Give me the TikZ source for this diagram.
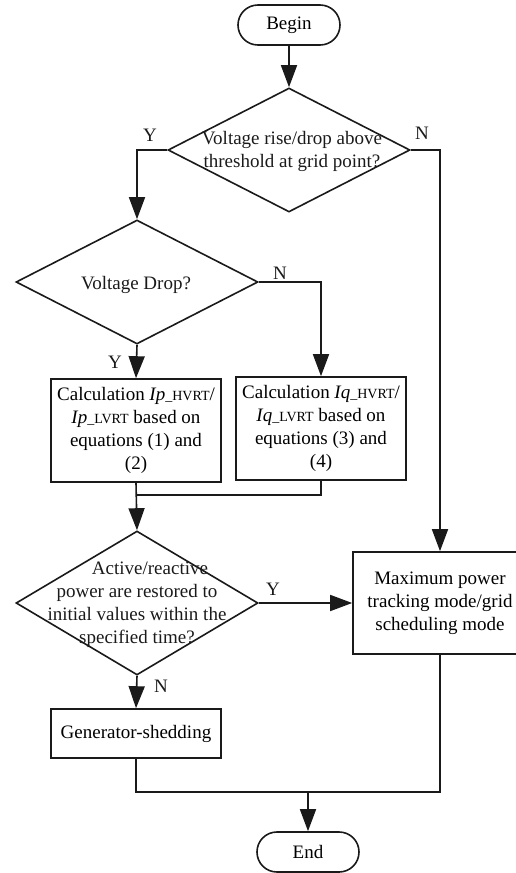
\documentclass[tikz,border=0pt]{standalone}
\usepackage{fontspec}
\setmainfont{Liberation Serif}
\usetikzlibrary{arrows.meta,shapes.geometric}
\newcommand{\rtsub}[1]{{\fontsize{14}{14}\selectfont\_#1}}
\tikzset{
  flow/.style={draw=ink,line width=1.6pt},
  arr/.style={flow,-{Triangle[length=22pt,width=16pt]}},
  termbox/.style={draw=ink,line width=1.6pt,rounded corners=19.9pt,minimum width=102pt,minimum height=40pt,inner sep=0pt},
  procbox/.style={draw=ink,line width=1.6pt,minimum width=170pt,inner sep=0pt,align=center},
  decide/.style={draw=ink,line width=1.6pt,diamond,minimum width=242pt,minimum height=124pt,inner sep=0pt},
  yn/.style={text=ink}
}
\begin{document}
\begin{tikzpicture}[x=1pt,y=-1pt,font=\fontsize{19}{23}\selectfont]
\definecolor{ink}{HTML}{1A1A1A}
\useasboundingbox (0,0) rectangle (516,873);
% start and first test
\node[termbox] (begin) at (289,25) {Begin};
\node[decide] (vrise) at (289,150) {};
\node[align=center,text=ink] (vrisetxt) at (292,151) {Voltage rise/drop above\\threshold at grid point?};
\node[decide] (vdrop) at (137,282) {};
\node[text=ink] (vdroptxt) at (136,285) {Voltage Drop?};
% current calculation
\node[procbox,minimum height=103pt] (calcp) at (136,430.5) {Calculation \textit{Ip}\rtsub{HVRT}/\\\textit{Ip}\rtsub{LVRT} based on\\equations (1) and\\(2)};
\node[procbox,minimum height=103pt] (calcq) at (321,428.5) {Calculation \textit{Iq}\rtsub{HVRT}/\\\textit{Iq}\rtsub{LVRT} based on\\equations (3) and\\(4)};
\coordinate (join) at (137,495);
% restore test
\node[decide,minimum height=144pt] (restore) at (137,603) {};
\node[align=center,text=ink] (restoretxt) at (137,605) {\hspace*{26pt}Active/reactive\\power are restored to\\initial values within the\\specified time?};
\node[procbox,minimum width=174pt,minimum height=102pt] (mppt) at (440,603) {Maximum power\\tracking mode/grid\\scheduling mode};
\node[procbox,minimum height=49pt] (shed) at (136,733.5) {Generator-shedding};
\coordinate (merge) at (308,792);
\node[termbox] (end) at (308,852) {End};
% connectors
\draw[arr] (begin) -- (vrise);
\draw[arr] (vrise.west) -| (vdrop.north);
\draw[arr] (vrise.east) -| (mppt.north);
\draw[arr] (vdrop.south) -- (calcp.north);
\draw[arr] (vdrop.east) -| (calcq.north);
\draw[flow] (calcq.south) |- (join);
\draw[arr] (calcp.south) -- (restore.north);
\draw[arr] (restore.east) -- (mppt.west);
\draw[arr] (restore.south) -- (shed.north);
\draw[flow] (shed.south) |- (merge) -| (mppt.south);
\draw[arr] (merge) -- (end);
% branch labels
\node[yn] (y1) at (150,135) {Y};
\node[yn] (n1) at (422,133) {N};
\node[yn] (n2) at (280,273) {N};
\node[yn] (y2) at (115,362) {Y};
\node[yn] (y3) at (273,589) {Y};
\node[yn] (n3) at (161,686) {N};
\end{tikzpicture}
\end{document}
